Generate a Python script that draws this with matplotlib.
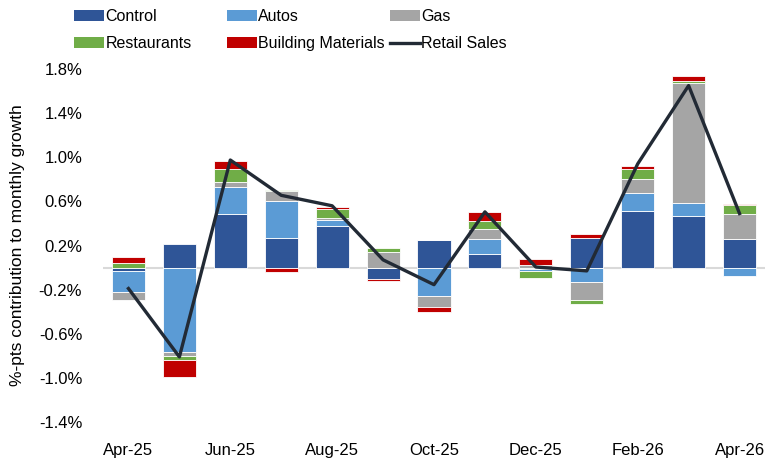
import matplotlib
matplotlib.use('Agg')
import matplotlib.pyplot as plt
import numpy as np
from matplotlib.patches import Patch
from matplotlib.lines import Line2D
from matplotlib.ticker import FuncFormatter

plt.rcParams['font.family'] = ['Liberation Sans', 'DejaVu Sans']

# данные: вклад в месячный рост, %-пункты
months = ['Apr-25', 'May-25', 'Jun-25', 'Jul-25', 'Aug-25', 'Sep-25', 'Oct-25',
          'Nov-25', 'Dec-25', 'Jan-26', 'Feb-26', 'Mar-26', 'Apr-26']
control = [-0.035, 0.215, 0.49, 0.27, 0.375, -0.10, 0.25, 0.125, -0.015, 0.265, 0.51, 0.465, 0.26]
autos = [-0.19, -0.765, 0.24, 0.33, 0.055, 0.0, -0.26, 0.13, -0.02, -0.13, 0.165, 0.12, -0.075]
gas = [-0.07, -0.04, 0.05, 0.09, 0.02, 0.14, -0.10, 0.095, 0.02, -0.16, 0.125, 1.085, 0.23]
restaurants = [0.04, -0.03, 0.11, 0.01, 0.085, 0.035, 0.0, 0.075, -0.055, -0.04, 0.09, 0.02, 0.075]
building = [0.055, -0.16, 0.08, -0.04, 0.01, -0.02, -0.04, 0.08, 0.06, 0.04, 0.03, 0.05, 0.01]
retail = [-0.19, -0.81, 0.975, 0.655, 0.56, 0.07, -0.155, 0.505, 0.005, -0.03, 0.94, 1.65, 0.49]

series = [('Control', control, '#2F5597'),
          ('Autos', autos, '#5B9BD5'),
          ('Gas', gas, '#A5A5A5'),
          ('Restaurants', restaurants, '#70AD47'),
          ('Building Materials', building, '#C00000')]
line_color = '#222A35'

fig = plt.figure(figsize=(7.65, 4.63), dpi=100)
ax = fig.add_axes([103 / 765, 41 / 463, 662 / 765, 364 / 463])

x = np.arange(len(months))
pos_bottom = np.zeros(len(months))
neg_bottom = np.zeros(len(months))
for name, vals, color in series:
    v = np.array(vals)
    bottom = np.where(v >= 0, pos_bottom, neg_bottom)
    ax.bar(x, v, 0.65, bottom=bottom, color=color, edgecolor='white', linewidth=0.6, zorder=2)
    pos_bottom += np.where(v >= 0, v, 0)
    neg_bottom += np.where(v < 0, v, 0)

ax.axhline(0, color='#D9D9D9', linewidth=1.5, zorder=1)
ax.plot(x, retail, color=line_color, linewidth=2.4, zorder=3)

ax.set_xlim(-0.5, 12.5)
ax.set_ylim(-1.4, 1.9)
ax.set_yticks(np.arange(-1.4, 1.81, 0.4))
ax.yaxis.set_major_formatter(FuncFormatter(lambda v, p: f'{v:.1f}%'))
ax.set_xticks(x[::2])
ax.set_xticklabels(months[::2])
ax.tick_params(axis='y', length=0, pad=15, labelsize=12)
ax.tick_params(axis='x', length=0, pad=15, labelsize=12)
for s in ax.spines.values():
    s.set_visible(False)

fig.text(18 / 765, 1 - 245 / 463, '%-pts contribution to monthly growth', rotation=90,
         ha='center', va='center', fontsize=12.5)

# легенда: три колонки по две строки, как в оригинале
handles = [Patch(facecolor=c, edgecolor='none') for _, _, c in series]
handles.append(Line2D([0], [0], color=line_color, linewidth=2.4))
labels = [n for n, _, _ in series] + ['Retail Sales']
col_x = [74, 227, 390]
for i, cx in enumerate(col_x):
    leg = fig.legend([handles[i], handles[i + 3]], [labels[i], labels[i + 3]],
                     loc='upper left', bbox_to_anchor=(cx / 765, 1 - 9 / 463),
                     frameon=False, fontsize=11.5, handlelength=1.85, handleheight=0.7,
                     handletextpad=0.12, labelspacing=0.78, borderpad=0, borderaxespad=0)

fig.savefig('out.png', dpi=100)
